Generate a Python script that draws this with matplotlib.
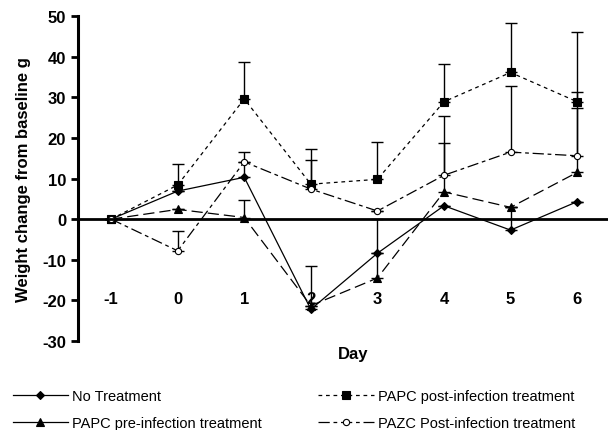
import numpy as np
import matplotlib
matplotlib.use('Agg')
from matplotlib import pyplot as plt
from matplotlib.lines import Line2D

plt.rcParams['font.family'] = ['Liberation Sans', 'DejaVu Sans']
plt.rcParams['axes.unicode_minus'] = False

days = [-1, 0, 1, 2, 3, 4, 5, 6]
day_labels = ['-1', '0', '1', '2', '3', '4', '5', '6']

no_treat = [0, 6.9, 10.3, -22.2, -8.4, 3.3, -2.7, 4.3]
no_treat_err = [0, 0, 6.3, 10.7, 0, 0, 5.7, 0]
papc_post = [0, 8.4, 29.6, 8.6, 9.8, 28.9, 36.1, 28.9]
papc_post_err = [0, 5.1, 9.0, 8.6, 9.1, 9.3, 12.2, 17.1]
papc_pre = [0, 2.4, 0.4, -21.3, -14.5, 6.7, 2.9, 11.5]
papc_pre_err = [0, 0, 4.3, 0, 14.5, 12.0, 0, 15.8]
pazc_post = [0, -7.8, 14.1, 7.4, 2.0, 10.8, 16.5, 15.6]
pazc_post_err = [0, 4.8, 0, 7.2, 0, 14.6, 16.3, 15.6]

fig = plt.figure(figsize=(6.08, 4.31), dpi=100)
ax = fig.add_axes([0.128, 0.2065, 0.876, 0.754])

series = [
    (no_treat, no_treat_err, 'No Treatment', 'D', 4, 'black', '-', '-'),
    (papc_pre, papc_pre_err, 'PAPC pre-infection treatment', '^', 5.5, 'black', (0, (9, 4)), '-'),
    (papc_post, papc_post_err, 'PAPC post-infection treatment', 's', 5.5, 'black', (0, (3, 3)), (0, (3, 3))),
    (pazc_post, pazc_post_err, 'PAZC Post-infection treatment', 'o', 4.5, 'white', (0, (9, 3, 3, 3)), (0, (9, 3, 3, 3))),
]

handles = []
for vals, err, name, mk, ms, fc, ls, leg_ls in series:
    ax.errorbar(days, vals, yerr=[np.zeros(len(err)), err], fmt='none',
                ecolor='black', elinewidth=1, capsize=4, capthick=1)
    ax.plot(days, vals, color='black', lw=0.9, linestyle=ls, marker=mk,
            markersize=ms, markerfacecolor=fc, markeredgecolor='black',
            markeredgewidth=0.8)
    handles.append(Line2D([], [], color='black', lw=0.9, linestyle=leg_ls, marker=mk,
                          markersize=ms, markerfacecolor=fc, markeredgecolor='black',
                          markeredgewidth=0.8, label=name))

ax.set_xlim(-1.5, 6.5)
ax.set_ylim(-30, 50)
ax.set_yticks(range(-30, 51, 10))
ax.set_xticks(days)
ax.set_xticklabels(day_labels)

for s in ['top', 'right']:
    ax.spines[s].set_visible(False)
ax.spines['left'].set_linewidth(2.2)
ax.spines['bottom'].set_position(('data', 0))
ax.spines['bottom'].set_linewidth(2)
ax.tick_params(axis='x', length=0, pad=52, labelsize=12)
ax.tick_params(axis='y', length=5, width=2, labelsize=12, direction='out')
for t in ax.get_xticklabels() + ax.get_yticklabels():
    t.set_fontweight('bold')

ax.set_ylabel('Weight change from baseline g', fontsize=12, fontweight='bold', labelpad=8)
fig.text(0.581, 0.178, 'Day', ha='center', va='center', fontsize=12, fontweight='bold')

fig.legend(handles=handles, ncol=2, loc='upper left', bbox_to_anchor=(0.021, 0.096),
           frameon=False, fontsize=10.5, handlelength=3.8, columnspacing=3.9,
           labelspacing=0.95, handletextpad=0.25, borderpad=0, borderaxespad=0)

fig.savefig('out.png', dpi=100)
